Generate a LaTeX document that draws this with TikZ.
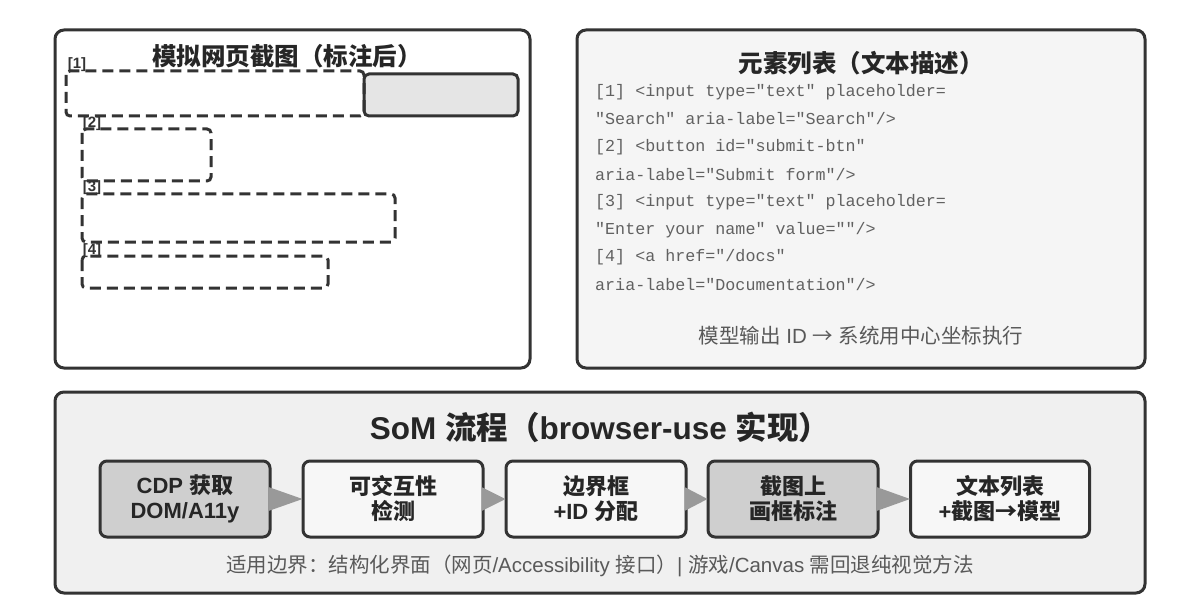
\documentclass[tikz,border=0pt]{standalone}
\usepackage{fontspec}
\setmainfont{Liberation Sans}
\newfontfamily\cjk{Noto Sans CJK SC}
\setmonofont{Liberation Mono}
\newcommand{\zh}[1]{{\cjk #1}}
\begin{document}
\begin{tikzpicture}[x=1pt,y=-1pt,
  panel/.style={draw=black!80,line width=3pt,rounded corners=9pt},
  dbox/.style={draw=black!80,line width=3pt,dash pattern=on 11pt off 6pt,rounded corners=4pt},
  lab/.style={font=\bfseries\fontsize{15}{15}\selectfont,text=black!80,inner sep=0pt},
  code/.style={font=\ttfamily\fontsize{16.7}{17}\selectfont,text=black!62,anchor=west,inner sep=0pt},
  flowbox/.style={draw=black!80,line width=3pt,rounded corners=7pt,minimum width=170pt,minimum height=76pt,align=center,font=\bfseries\fontsize{22}{25}\selectfont,text=black!85},
  tri/.style={fill=black!40,draw=none}]
\useasboundingbox (0,0) rectangle (1200,615);
\fill[white] (0,0) rectangle (1200,615);
% left panel
\draw[panel,fill=white] (55,30) rectangle (530,368);
\node[font=\cjk\bfseries\fontsize{24.5}{25}\selectfont,text=black!85] (lt) at (287,56) {模拟网页截图（标注后）};
\draw[line width=3pt,draw=black!80,fill=black!10,rounded corners=5pt] (364,74) rectangle (518,116);
\draw[dbox] (66,71) rectangle (364,116);
\node[lab] (l1) at (77,65) {[1]};
\draw[dbox] (82,129) rectangle (211,181);
\node[lab] (l2) at (92,124) {[2]};
\draw[dbox] (82,194) rectangle (395,242);
\node[lab] (l3) at (92,188) {[3]};
\draw[dbox] (82,256) rectangle (328,288);
\node[lab] (l4) at (92,251) {[4]};
% right panel
\draw[panel,fill=black!4] (577,30) rectangle (1145,368);
\node[font=\cjk\bfseries\fontsize{24.5}{25}\selectfont,text=black!85] (rt) at (861,63) {元素列表（文本描述）};
\node[code] (c1) at (595,92) {[1] <input type="text" placeholder=};
\node[code] (c2) at (595,119) {"Search" aria-label="Search"/>};
\node[code] (c3) at (595,147) {[2] <button id="submit-btn"};
\node[code] (c4) at (595,175) {aria-label="Submit form"/>};
\node[code] (c5) at (595,202) {[3] <input type="text" placeholder=};
\node[code] (c6) at (595,230) {"Enter your name" value=""/>};
\node[code] (c7) at (595,257) {[4] <a href="/docs"};
\node[code] (c8) at (595,285) {aria-label="Documentation"/>};
\node[font=\fontsize{20.5}{21}\selectfont,text=black!65] (rf) at (861,336) {\zh{模型输出} ID \zh{→} \zh{系统用中心坐标执行}};
% bottom panel
\draw[panel,fill=black!6] (55,392) rectangle (1145,593);
\node[font=\bfseries\fontsize{31.5}{32}\selectfont,text=black!85] (bt) at (600,427) {SoM \zh{流程（}browser-use \zh{实现）}};
\node[flowbox,fill=black!19] (s1) at (185,499) {CDP \zh{获取}\\DOM/A11y};
\node[flowbox,fill=black!3,minimum width=180pt] (s2) at (393,499) {\zh{可交互性}\\\zh{检测}};
\node[flowbox,fill=black!3,minimum width=180pt] (s3) at (596,499) {\zh{边界框}\\+ID \zh{分配}};
\node[flowbox,fill=black!19] (s4) at (793,499) {\zh{截图上}\\\zh{画框标注}};
\node[flowbox,fill=black!3,minimum width=179pt] (s5) at (1000,499) {\zh{文本列表}\\+\zh{截图→模型}};
\foreach \a/\b in {s1/s2,s2/s3,s3/s4,s4/s5}{
  \fill[tri] ([xshift=-3pt,yshift=12pt]\a.east) -- ([xshift=-3pt,yshift=-12pt]\a.east) -- ([xshift=1pt]\b.west) -- cycle;
}
\node[font=\fontsize{20.5}{21}\selectfont,text=black!65] (bf) at (600,566) {\zh{适用边界：结构化界面（网页}/Accessibility \zh{接口）}| \zh{游戏}/Canvas \zh{需回退纯视觉方法}};
\end{tikzpicture}
\end{document}
